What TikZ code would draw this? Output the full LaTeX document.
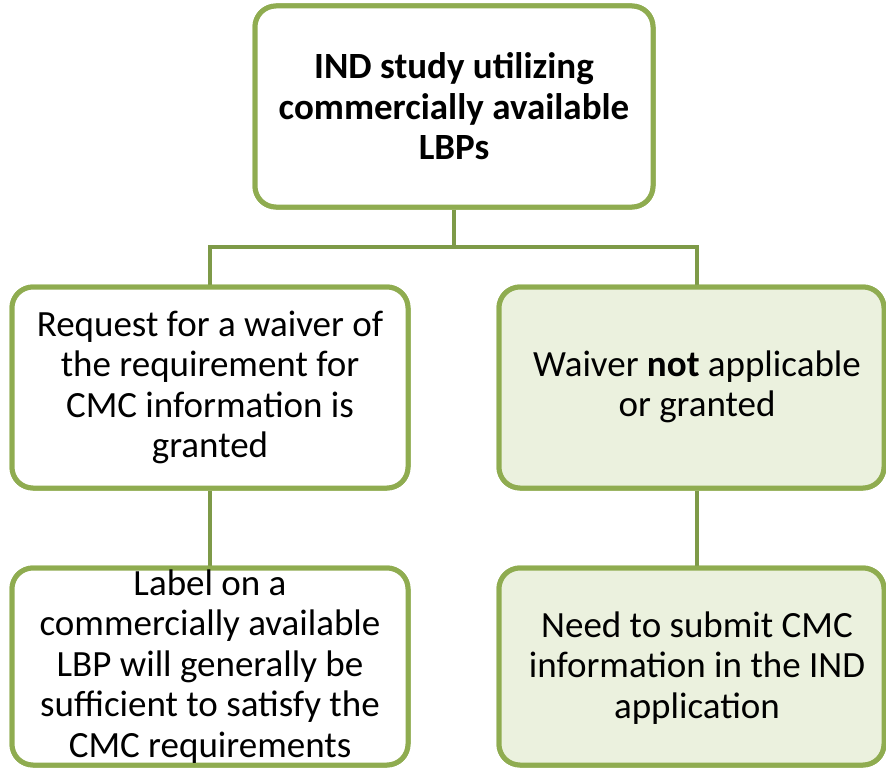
\documentclass[tikz,border=0pt]{standalone}
\usepackage{fontspec}
\setmainfont{Carlito}
\definecolor{boxline}{HTML}{8FAC50}
\definecolor{connline}{HTML}{7E9A48}
\definecolor{lightfill}{HTML}{EBF1DE}
\begin{document}
\begin{tikzpicture}[x=1pt,y=-1pt,
  flowbox/.style={draw=boxline, line width=5pt, rounded corners=21pt, fill=white,
    inner sep=0pt, align=center, font=\fontsize{37}{40.5}\selectfont},
  shaded/.style={flowbox, fill=lightfill},
  boxtext/.style={inner sep=0pt, align=center, font=\fontsize{37}{40.5}\selectfont},
  conn/.style={draw=connline, line width=4.5pt}]
\useasboundingbox (0,0) rectangle (886,768);
\coordinate (busL) at (210,247);
\coordinate (busR) at (697,247);
% connectors (drawn first, under the boxes)
\node[flowbox, minimum width=398pt, minimum height=201pt] (top) at (454,106.5) {};
\node[flowbox, minimum width=396pt, minimum height=201pt] (ml) at (210,387.5) {};
\node[shaded, minimum width=385pt, minimum height=201pt] (mr) at (691.5,387.5) {};
\node[flowbox, minimum width=396pt, minimum height=197pt] (bl) at (210,666.5) {};
\node[shaded, minimum width=385pt, minimum height=197pt] (br) at (691.5,666.5) {};
\draw[conn] (top.south) -- (top.south |- busL);
\draw[conn] (ml.north) -- (busL) -- (busR) -- (busR |- mr.north);
\draw[conn] (ml.south) -- (bl.north);
\draw[conn] (busR |- mr.south) -- (busR |- br.north);
% redraw boxes over connector ends
\node[flowbox, minimum width=398pt, minimum height=201pt] at (top) {\textbf{IND study utilizing}\\\textbf{commercially available}\\\textbf{LBPs}};
\node[flowbox, minimum width=396pt, minimum height=201pt] at (ml) {Request for a waiver of\\the requirement for\\CMC information is\\granted};
\node[shaded, minimum width=385pt, minimum height=201pt] at (mr) {};
\node[boxtext] (mrtext) at (697,387) {Waiver \textbf{not} applicable\\or granted};
\node[flowbox, minimum width=396pt, minimum height=197pt] at (bl) {Label on a\\commercially available\\LBP will generally be\\sufficient to satisfy the\\CMC requirements};
\node[shaded, minimum width=385pt, minimum height=197pt] at (br) {};
\node[boxtext] (brtext) at (697,668) {Need to submit CMC\\information in the IND\\application};
\end{tikzpicture}
\end{document}
